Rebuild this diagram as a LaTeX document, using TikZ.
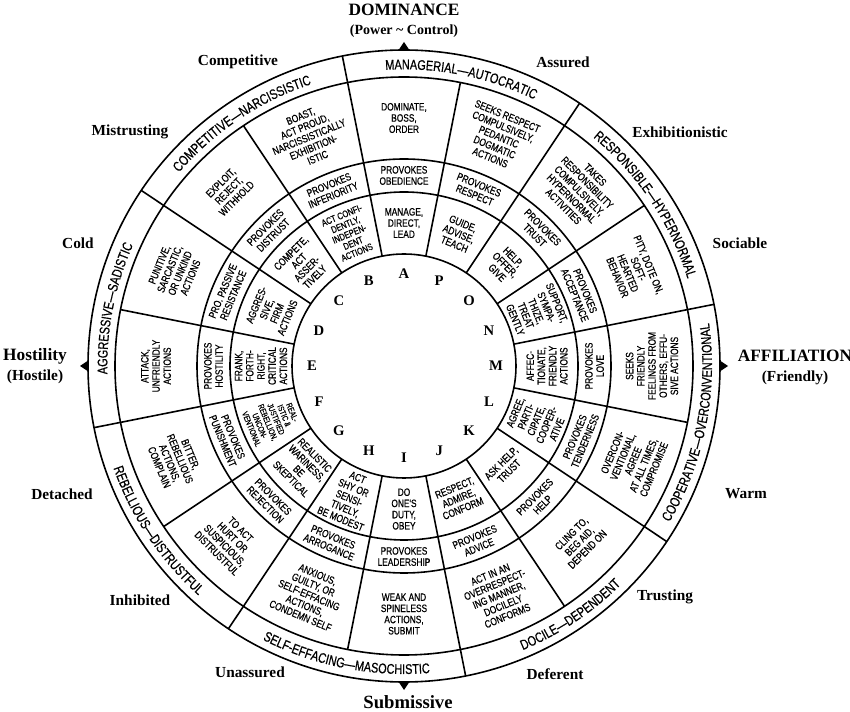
\documentclass[tikz,border=0pt]{standalone}
\usepackage{fontspec}
\usetikzlibrary{decorations.text}
\newfontfamily\cf[FakeStretch=0.78,FakeBold=0.6]{Liberation Sans}
\newfontfamily\rf{Liberation Serif}
\newcommand\sect[5]{\node[rtext,rotate=#3] (#1) at (#2:#4) {#5};}
\begin{document}
\begin{tikzpicture}[x=0.75pt,y=-0.75pt,
  rtext/.style={font=\cf\fontsize{8}{8.4}\selectfont,align=center,inner sep=0pt},
  lab/.style={font=\rf\bfseries\fontsize{11.5}{13}\selectfont,inner sep=0pt},
  lett/.style={font=\rf\bfseries\fontsize{11}{12}\selectfont,inner sep=0pt},
  ln/.style={line width=1.2pt}]
\useasboundingbox (0,0) rectangle (850,712);
\begin{scope}[shift={(404,366)}]
\coordinate (ctr) at (0,0);
\draw[ln] (ctr) circle[radius=237pt];
\draw[ln] (ctr) circle[radius=216.75pt];
\draw[ln] (ctr) circle[radius=155.25pt];
\draw[ln] (ctr) circle[radius=130.5pt];
\draw[ln] (ctr) circle[radius=84pt];
\foreach \k in {0,...,15} \draw[ln] (11.25+22.5*\k:84pt) -- (11.25+22.5*\k:216.75pt);
\foreach \k in {0,...,7} \draw[ln] (11.25+45*\k:216.75pt) -- (11.25+45*\k:237pt);
% pole markers
\fill (90:237pt) ++(-4pt,0) -- ++(8pt,0) -- ++(-4pt,6pt) -- cycle;
\fill (-90:237pt) ++(-4pt,0) -- ++(8pt,0) -- ++(-4pt,-6pt) -- cycle;
\fill (0:237pt) ++(0,-4pt) -- ++(0,8pt) -- ++(6pt,-4pt) -- cycle;
\fill (180:237pt) ++(0,-4pt) -- ++(0,8pt) -- ++(-6pt,-4pt) -- cycle;
% letters
\foreach \l/\a in {A/90,P/67.5,O/45,N/22.5,M/0,L/-22.5,K/-45,J/-67.5,I/-90,H/-112.5,G/-135,F/-157.5,E/180,D/157.5,C/135,B/112.5}
  \node[lett] (L\l) at (\a:69pt) {\l};
% ring 4
\sect{a4}{90}{0}{107.25pt}{MANAGE,\\DIRECT,\\LEAD}
\sect{p4}{67.5}{-22.5}{107.25pt}{GUIDE,\\ADVISE,\\TEACH}
\sect{o4}{45}{-45}{107.25pt}{HELP,\\OFFER,\\GIVE}
\sect{n4}{22.5}{-67.5}{107.25pt}{SUPPORT,\\SYMPA-\\THIZE,\\TREAT\\GENTLY}
\sect{m4}{0}{90}{107.25pt}{AFFEC-\\TIONATE,\\FRIENDLY\\ACTIONS}
\sect{l4}{-22.5}{67.5}{107.25pt}{AGREE,\\PARTI-\\CIPATE,\\COOPER-\\ATIVE}
\sect{k4}{-45}{45}{107.25pt}{ASK HELP,\\TRUST}
\sect{j4}{-67.5}{22.5}{107.25pt}{RESPECT,\\ADMIRE,\\CONFORM}
\sect{i4}{-90}{0}{107.25pt}{DO\\ONE'S\\DUTY,\\OBEY}
\sect{h4}{-112.5}{-22.5}{107.25pt}{ACT\\SHY OR\\SENSI-\\TIVELY,\\BE MODEST}
\sect{g4}{-135}{-45}{107.25pt}{REALISTIC\\WARINESS,\\BE\\SKEPTICAL}
\node[rtext,rotate=-67.5,font=\cf\fontsize{6.3}{6.6}\selectfont] (f4) at (-157.5:107.25pt) {REAL-\\ISTIC \&\\JUSTIFIED\\REBELLION,\\UNCON-\\VENTIONAL};
\sect{e4}{180}{90}{107.25pt}{FRANK,\\FORTH-\\RIGHT,\\CRITICAL\\ACTIONS}
\sect{d4}{157.5}{67.5}{107.25pt}{AGGRES-\\SIVE,\\FIRM\\ACTIONS}
\sect{c4}{135}{45}{107.25pt}{COMPETE,\\ACT\\ASSER-\\TIVELY}
\node[rtext,rotate=22.5,font=\cf\fontsize{7.2}{7.5}\selectfont] (b4) at (112.5:107.25pt) {ACT CONFI-\\DENTLY,\\INDEPEN-\\DENT\\ACTIONS};
% ring 3
\sect{a3}{90}{0}{142.9pt}{PROVOKES\\OBEDIENCE}
\sect{p3}{67.5}{-22.5}{142.9pt}{PROVOKES\\RESPECT}
\sect{o3}{45}{-45}{142.9pt}{PROVOKES\\TRUST}
\sect{n3}{22.5}{-67.5}{142.9pt}{PROVOKES\\ACCEPTANCE}
\sect{m3}{0}{90}{142.9pt}{PROVOKES\\LOVE}
\sect{l3}{-22.5}{67.5}{142.9pt}{PROVOKES\\TENDERNESS}
\sect{k3}{-45}{45}{142.9pt}{PROVOKES\\HELP}
\sect{j3}{-67.5}{22.5}{142.9pt}{PROVOKES\\ADVICE}
\sect{i3}{-90}{0}{142.9pt}{PROVOKES\\LEADERSHIP}
\sect{h3}{-112.5}{-22.5}{142.9pt}{PROVOKES\\ARROGANCE}
\sect{g3}{-135}{-45}{142.9pt}{PROVOKES\\REJECTION}
\sect{f3}{-157.5}{-67.5}{142.9pt}{PROVOKES\\PUNISHMENT}
\sect{e3}{180}{90}{142.9pt}{PROVOKES\\HOSTILITY}
\sect{d3}{157.5}{67.5}{142.9pt}{PRO. PASSIVE\\RESISTANCE}
\sect{c3}{135}{45}{142.9pt}{PROVOKES\\DISTRUST}
\sect{b3}{112.5}{22.5}{142.9pt}{PROVOKES\\INFERIORITY}
% ring 2
\sect{a2}{90}{0}{186pt}{DOMINATE,\\BOSS,\\ORDER}
\sect{p2}{67.5}{-22.5}{186pt}{SEEKS RESPECT\\COMPULSIVELY,\\PEDANTIC\\DOGMATIC\\ACTIONS}
\sect{o2}{45}{-45}{186pt}{TAKES\\RESPONSIBILITY\\COMPULSIVELY,\\HYPERNORMAL\\ACTIVITIES}
\sect{n2}{22.5}{-67.5}{186pt}{PITY, DOTE ON,\\SOFT-\\HEARTED\\BEHAVIOR}
\sect{m2}{0}{90}{186pt}{SEEKS\\FRIENDLY\\FEELINGS FROM\\OTHERS, EFFU-\\SIVE ACTIONS}
\sect{l2}{-22.5}{67.5}{186pt}{OVERCON-\\VENTIONAL,\\AGREE\\AT ALL TIMES,\\COMPROMISE}
\sect{k2}{-45}{45}{186pt}{CLING TO,\\BEG AID,\\DEPEND ON}
\sect{j2}{-67.5}{22.5}{186pt}{ACT IN AN\\OVERRESPECT-\\ING MANNER,\\DOCILELY\\CONFORMS}
\sect{i2}{-90}{0}{186pt}{WEAK AND\\SPINELESS\\ACTIONS,\\SUBMIT}
\sect{h2}{-112.5}{-22.5}{186pt}{ANXIOUS,\\GUILTY, OR\\SELF-EFFACING\\ACTIONS,\\CONDEMN SELF}
\sect{g2}{-135}{-45}{186pt}{TO ACT\\HURT OR\\SUSPICIOUS,\\DISTRUSTFUL}
\sect{f2}{-157.5}{-67.5}{186pt}{BITTER,\\REBELLIOUS\\ACTIONS,\\COMPLAIN}
\sect{e2}{180}{90}{186pt}{ATTACK,\\UNFRIENDLY\\ACTIONS}
\sect{d2}{157.5}{67.5}{186pt}{PUNITIVE,\\SARCASTIC,\\OR UNKIND\\ACTIONS}
\sect{c2}{135}{45}{186pt}{EXPLOIT,\\REJECT,\\WITHHOLD}
\sect{b2}{112.5}{22.5}{186pt}{BOAST,\\ACT PROUD,\\NARCISSISTICALLY\\EXHIBITION-\\ISTIC}
% outer ring curved texts
\begingroup\cf\fontsize{10.5}{12}\selectfont
\path[decorate,decoration={text along path,text align=center,text={MANAGERIAL—AUTOCRATIC}}] (101.25:222.5pt) arc[start angle=101.25,end angle=56.25,radius=222.5pt];
\path[decorate,decoration={text along path,text align=center,text={RESPONSIBLE—HYPERNORMAL}}] (56.25:222.5pt) arc[start angle=56.25,end angle=11.25,radius=222.5pt];
\path[decorate,decoration={text along path,text align=center,text={AGGRESSIVE—SADISTIC}}] (191.25:222.5pt) arc[start angle=191.25,end angle=146.25,radius=222.5pt];
\path[decorate,decoration={text along path,text align=center,text={COMPETITIVE—NARCISSISTIC}}] (146.25:222.5pt) arc[start angle=146.25,end angle=101.25,radius=222.5pt];
\path[decorate,decoration={text along path,text align=center,text={COOPERATIVE—OVERCONVENTIONAL}}] (-33.75:231pt) arc[start angle=-33.75,end angle=11.25,radius=231pt];
\path[decorate,decoration={text along path,text align=center,text={DOCILE—DEPENDENT}}] (-78.75:231pt) arc[start angle=-78.75,end angle=-33.75,radius=231pt];
\path[decorate,decoration={text along path,text align=center,text={SELF-EFFACING—MASOCHISTIC}}] (-123.75:231pt) arc[start angle=-123.75,end angle=-78.75,radius=231pt];
\path[decorate,decoration={text along path,text align=center,text={REBELLIOUS—DISTRUSTFUL}}] (-168.75:231pt) arc[start angle=-168.75,end angle=-123.75,radius=231pt];
\endgroup
\end{scope}
% outside labels
\node[lab,font=\rf\bfseries\fontsize{13}{15}\selectfont] (dom) at (404,10) {DOMINANCE};
\node[lab,font=\rf\bfseries\fontsize{10.5}{12}\selectfont] (pc) at (404,31) {(Power \textasciitilde\ Control)};
\node[lab] (t1) at (238,62) {Competitive};
\node[lab] (t2) at (563,62) {Assured};
\node[lab] (t3) at (130,132) {Mistrusting};
\node[lab] (t4) at (680,132) {Exhibitionistic};
\node[lab] (t5) at (78,243) {Cold};
\node[lab] (t6) at (740,243) {Sociable};
\node[lab,font=\rf\bfseries\fontsize{13}{15}\selectfont] (hos) at (35,356) {Hostility};
\node[lab] (hos2) at (35,377) {(Hostile)};
\node[lab,font=\rf\bfseries\fontsize{13}{15}\selectfont] (aff) at (795,356) {AFFILIATION};
\node[lab] (aff2) at (795,378) {(Friendly)};
\node[lab] (t7) at (62,494) {Detached};
\node[lab] (t8) at (746,494) {Warm};
\node[lab] (t9) at (140,600) {Inhibited};
\node[lab] (t10) at (665,597) {Trusting};
\node[lab] (t11) at (250,672) {Unassured};
\node[lab] (t12) at (555,674) {Deferent};
\node[lab,font=\rf\bfseries\fontsize{14}{16}\selectfont] (sub) at (408,702) {Submissive};
\end{tikzpicture}
\end{document}
